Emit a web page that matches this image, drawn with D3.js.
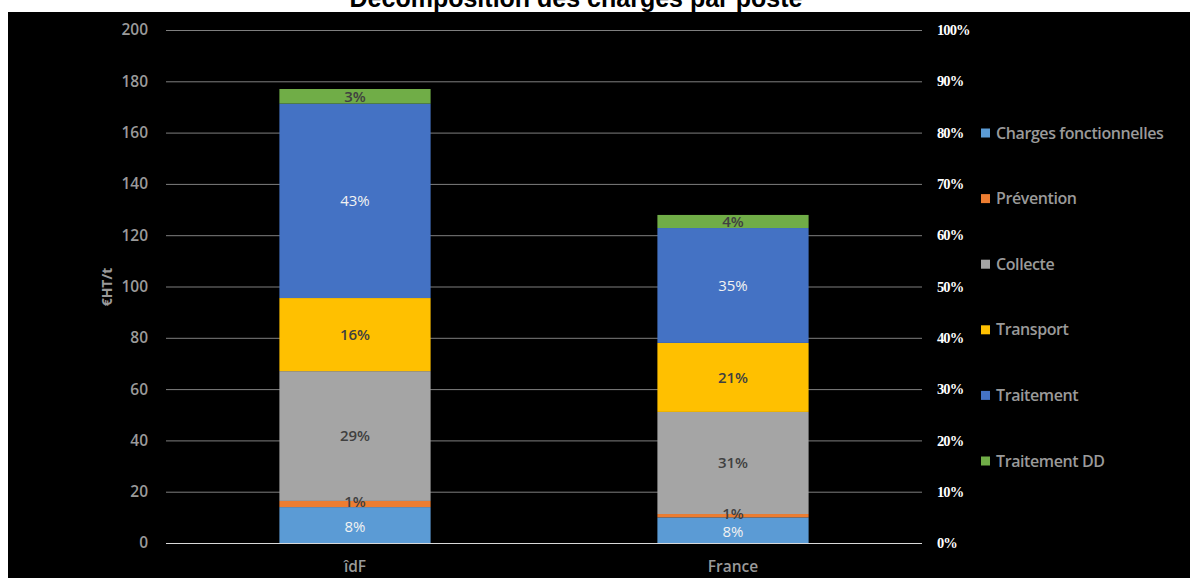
<!DOCTYPE html>
<html><head><meta charset="utf-8">
<script src="https://cdn.jsdelivr.net/npm/d3@7"></script>
<style>html,body{margin:0;padding:0;background:#fff;}svg{display:block;}</style>
</head><body>
<svg id="c" width="1190" height="578"></svg>
<script>
const categories = ["îdF", "France"];
const seriesNames = ["Charges fonctionnelles", "Prévention", "Collecte", "Transport", "Traitement", "Traitement DD"];
const seriesColors = ["#5b9bd5", "#ed7d31", "#a5a5a5", "#ffc000", "#4472c4", "#70ad47"];
const labelColors = ["#f2f2f2", "#404040", "#404040", "#404040", "#f2f2f2", "#404040"];
const chargesFonctionnelles = [14.0, 10.0];
const prevention = [2.4, 1.3];
const collecte = [50.6, 39.8];
const transport = [28.5, 26.9];
const traitement = [75.8, 44.8];
const traitementDD = [5.7, 5.1];
const pctLabels = [
  ["8%", "8%"], ["1%", "1%"], ["29%", "31%"], ["16%", "21%"], ["43%", "35%"], ["3%", "4%"]
];
const leftTicks = [0, 20, 40, 60, 80, 100, 120, 140, 160, 180, 200];
const rightTicks = [0, 0.1, 0.2, 0.3, 0.4, 0.5, 0.6, 0.7, 0.8, 0.9, 1.0];
const titleText = "Décomposition des charges par poste";
const yTitle = "€HT/t";

const series = [chargesFonctionnelles, prevention, collecte, transport, traitement, traitementDD];
const svg = d3.select("#c");

svg.append("text").attr("x", 576).attr("y", 7).attr("text-anchor", "middle")
  .attr("font-family", "Liberation Sans, Arial").attr("font-weight", "bold").attr("font-size", 25)
  .attr("fill", "#000").text(titleText);
svg.append("rect").attr("x", 8).attr("y", 12).attr("width", 1182).attr("height", 566).attr("fill", "#000");

const x = d3.scaleBand().domain(categories).range([166, 922]).paddingInner(0.6).paddingOuter(0.3);
const y = d3.scaleLinear().domain([0, 200]).range([543, 30]);
const yr = d3.scaleLinear().domain([0, 1]).range([543, 30]);

// gridlines
svg.append("g").selectAll("line").data(leftTicks.filter(d => d > 0)).join("line")
  .attr("x1", 166).attr("x2", 922).attr("y1", d => y(d) + 0.5).attr("y2", d => y(d) + 0.5)
  .attr("stroke", "#7f7f7f").attr("stroke-width", 1);

// left axis
const la = svg.append("g").attr("transform", "translate(148,0)")
  .call(d3.axisLeft(y).tickValues(leftTicks).tickSize(0).tickPadding(0));
la.select(".domain").remove();
la.selectAll("text").attr("fill", "#9a9a9a").attr("font-family", "Open Sans").attr("font-size", 15.5)
  .attr("font-weight", 600);

// right axis
const ra = svg.append("g").attr("transform", "translate(937,0)")
  .call(d3.axisRight(yr).tickValues(rightTicks).tickFormat(d3.format(".0%")).tickSize(0).tickPadding(0));
ra.select(".domain").remove();
ra.selectAll("text").attr("fill", "#fff").attr("font-family", "Liberation Serif").attr("font-weight", "bold")
  .attr("font-size", 14.5).attr("letter-spacing", -0.9);

// stacked bars
const rows = categories.map((c, i) => { const o = { cat: c }; seriesNames.forEach((s, k) => o[s] = series[k][i]); return o; });
const stacked = d3.stack().keys(seriesNames)(rows);
const gBars = svg.append("g");
stacked.forEach((layer, k) => {
  gBars.append("g").attr("fill", seriesColors[k]).selectAll("rect").data(layer).join("rect")
    .attr("x", d => x(d.data.cat)).attr("width", x.bandwidth())
    .attr("y", d => y(d[1])).attr("height", d => y(d[0]) - y(d[1]));
});
// baseline
svg.append("line").attr("x1", 166).attr("x2", 922).attr("y1", y(0) + 0.5).attr("y2", y(0) + 0.5)
  .attr("stroke", "#d9d9d9").attr("stroke-width", 1);

// data labels
stacked.forEach((layer, k) => {
  svg.append("g").selectAll("text").data(layer).join("text")
    .attr("x", d => x(d.data.cat) + x.bandwidth() / 2)
    .attr("y", d => (y(d[0]) + y(d[1])) / 2 + (k === 0 ? 2 : (k === 1 ? -2 : 0)))
    .attr("dy", "0.35em").attr("text-anchor", "middle")
    .attr("font-family", "Open Sans").attr("font-size", 15)
    .attr("font-weight", labelColors[k] === "#404040" ? 600 : 400)
    .attr("fill", labelColors[k]).text((d, i) => pctLabels[k][i]);
});

// category labels
svg.append("g").selectAll("text").data(categories).join("text")
  .attr("x", d => x(d) + x.bandwidth() / 2).attr("y", 567).attr("dy", "0.35em")
  .attr("text-anchor", "middle").attr("font-family", "Open Sans").attr("font-size", 15.5)
  .attr("font-weight", 600).attr("fill", "#9a9a9a").text(d => d);

// y title
svg.append("text").attr("transform", "translate(107,287) rotate(-90)").attr("text-anchor", "middle")
  .attr("dy", "0.35em").attr("font-family", "Open Sans").attr("font-weight", "bold").attr("font-size", 14)
  .attr("fill", "#9a9a9a").text(yTitle);

// legend
const lg = svg.append("g").selectAll("g").data(seriesNames).join("g")
  .attr("transform", (d, i) => `translate(981,${133 + i * 65.6})`);
lg.append("rect").attr("x", 0).attr("y", -4.5).attr("width", 9).attr("height", 9).attr("fill", (d, i) => seriesColors[i]);
lg.append("text").attr("x", 15).attr("dy", "0.35em").attr("font-family", "Open Sans").attr("font-size", 16)
  .attr("font-weight", 600).attr("letter-spacing", -0.4).attr("fill", "#9a9a9a").text(d => d);
</script>
</body></html>
